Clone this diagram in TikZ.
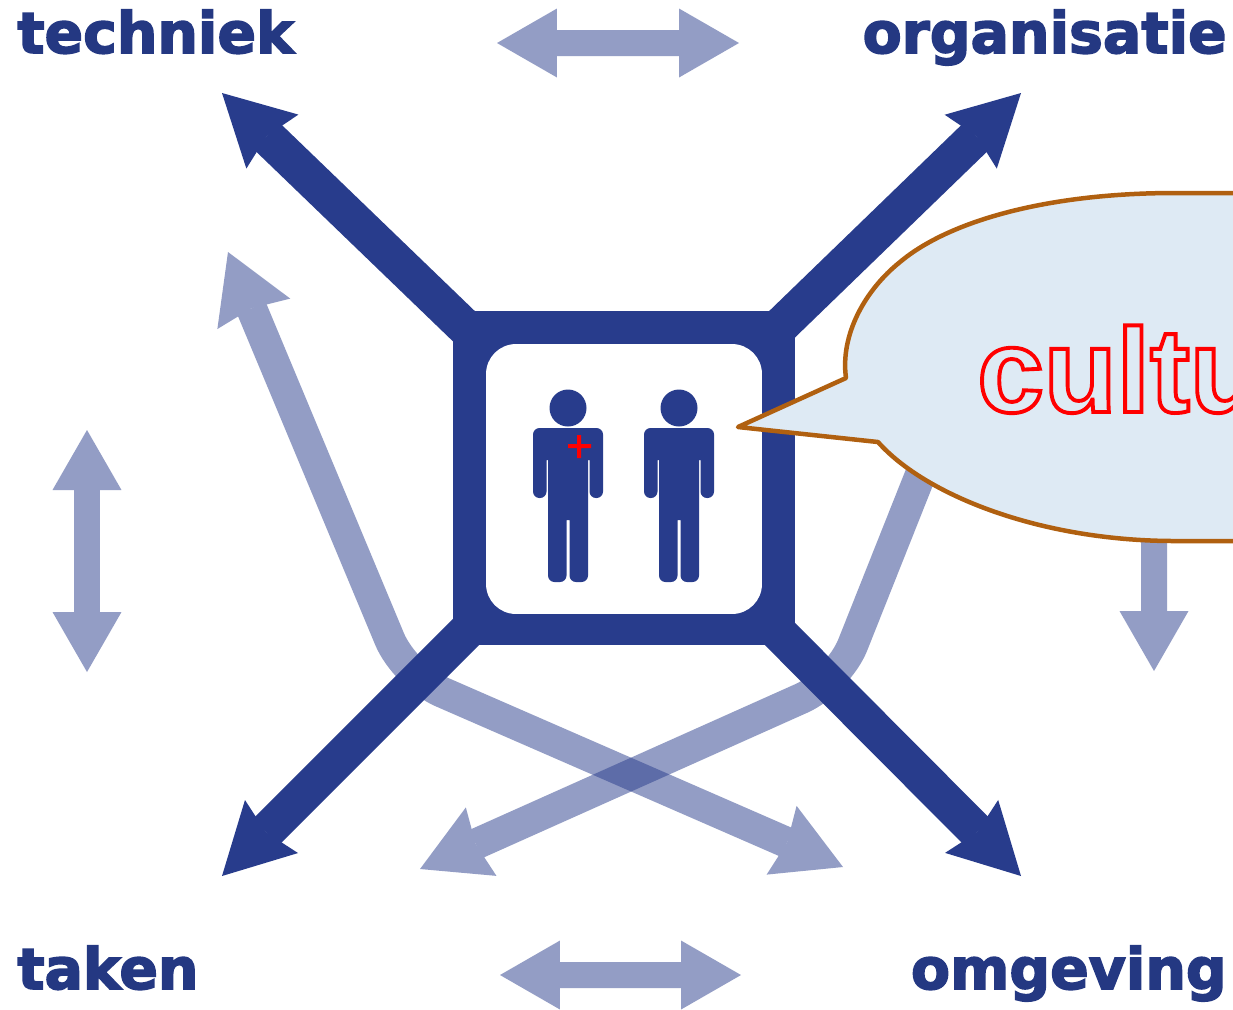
\documentclass[tikz,border=0pt]{standalone}
\usepackage{fontspec}
\setmainfont{Liberation Sans}
\newfontfamily\labelfont[Scale=1]{DejaVu Sans}
\usetikzlibrary{arrows.meta}
\definecolor{darkblue}{RGB}{40,60,140}
\definecolor{labelblue}{RGB}{36,56,130}
\definecolor{bubblefill}{RGB}{222,234,244}
\definecolor{bubbleline}{RGB}{176,96,16}
\tikzstyle{label} = [font=\labelfont\bfseries\fontsize{32.4}{34}\selectfont, text=labelblue, inner sep=0pt]
\tikzstyle{main} = [draw=darkblue, line width=0.74cm, -{Stealth[length=1.4cm,width=1.5cm,inset=0.16cm,line width=0pt]}]
\tikzstyle{faded} = [transparency group, opacity=0.5]
\tikzstyle{soft} = [draw=darkblue, line width=0.62cm, rounded corners=0.8cm,
    {Stealth[length=1.34cm,width=1.5cm,inset=0.12cm,line width=0pt]}-{Stealth[length=1.34cm,width=1.58cm,inset=0.12cm,line width=0pt]}]
\tikzstyle{swap} = [draw=darkblue, line width=0.52cm,
    {Triangle[length=1.2cm,width=1.38cm,line width=0pt]}-{Triangle[length=1.2cm,width=1.38cm,line width=0pt]}]
\tikzset{person/.pic={
    \fill[darkblue] (0,0) circle (0.37cm);
    \fill[darkblue, rounded corners=0.13cm] (-35,20) rectangle (-21.5,90) (21.5,20) rectangle (35,90) (-35,20) rectangle (35,52)
        (-20,40) rectangle (-1.5,174) (1.5,40) rectangle (20,174) (-20,40) rectangle (20,112);
}}
\newcommand{\outlined}[1]{\special{pdf:code q 1 Tr 1 0 0 RG 2.2 w}#1\special{pdf:code Q}}
\newcommand{\heavy}[1]{\special{pdf:code q 2 Tr 0.14 0.22 0.51 RG 0.9 w}#1\special{pdf:code Q}}
\begin{document}
\begin{tikzpicture}[x=0.02cm, y=-0.02cm]
    \clip (0,0) rectangle (1233,1009);
    \fill[white] (0,0) rectangle (1233,1009);

    % Nodes
    \node [label, anchor=base west] (techniek) at (17,53) {\heavy{techniek}};
    \node [label, anchor=base east] (organisatie) at (1227,53) {\heavy{organisatie}};
    \node [label, anchor=base west] (taken) at (17,989) {\heavy{taken}};
    \node [label, anchor=base east] (omgeving) at (1227,989) {\heavy{omgeving}};

    % Points
    \coordinate (hubtl) at (472,334);
    \coordinate (hubtr) at (772,334);
    \coordinate (hubbl) at (472,626);
    \coordinate (hubbr) at (772,626);
    \coordinate (tiptl) at (222,93);
    \coordinate (tiptr) at (1021,93);
    \coordinate (tipbl) at (222,876);
    \coordinate (tipbr) at (1021,876);

    % Soft arrows
    \begin{scope}[faded] \draw [soft] (843,867) -- (405,676) -- (228,252); \end{scope}
    \begin{scope}[faded] \draw [soft] (420,869) -- (838,682) -- (1009,252); \end{scope}
    \begin{scope}[faded] \draw [swap] (497,43) -- (739,43); \end{scope}
    \begin{scope}[faded] \draw [swap] (500,975) -- (741,975); \end{scope}
    \begin{scope}[faded] \draw [swap] (87,430) -- (87,672); \end{scope}
    \begin{scope}[faded] \draw [swap] (1154,430) -- (1154,671); \end{scope}

    % Main arrows
    \draw [main] (hubtl) -- (tiptl);
    \draw [main] (hubtr) -- (tiptr);
    \draw [main] (hubbl) -- (tipbl);
    \draw [main] (hubbr) -- (tipbr);

    % Frame
    \node [fill=darkblue, rounded corners=0.4cm, minimum width=6.84cm, minimum height=6.68cm, inner sep=0pt] (frame) at (624,478) {};
    \node [fill=white, rounded corners=0.6cm, minimum width=5.52cm, minimum height=5.4cm, inner sep=0pt] (window) at (624,479) {};
    \pic at (568,408) {person};
    \pic at (679,408) {person};
    \fill[red] (577,435) rectangle (581,458) (568,444) rectangle (591,448);

    % Bubble
    \draw [fill=bubblefill, draw=bubbleline, line width=0.09cm, line join=round] (738,427) -- (878,442)
        .. controls (925,495) and (1040,541) .. (1175,541) -- (1300,541) -- (1300,193) -- (1175,193)
        .. controls (1050,193) and (950,220) .. (900,262)
        .. controls (865,290) and (840,335) .. (846,378) -- cycle;
    \node [anchor=base west, inner sep=0pt, font=\bfseries\fontsize{68}{70}\selectfont] (culture) at (977,412) {\outlined{cultu}};
\end{tikzpicture}
\end{document}
